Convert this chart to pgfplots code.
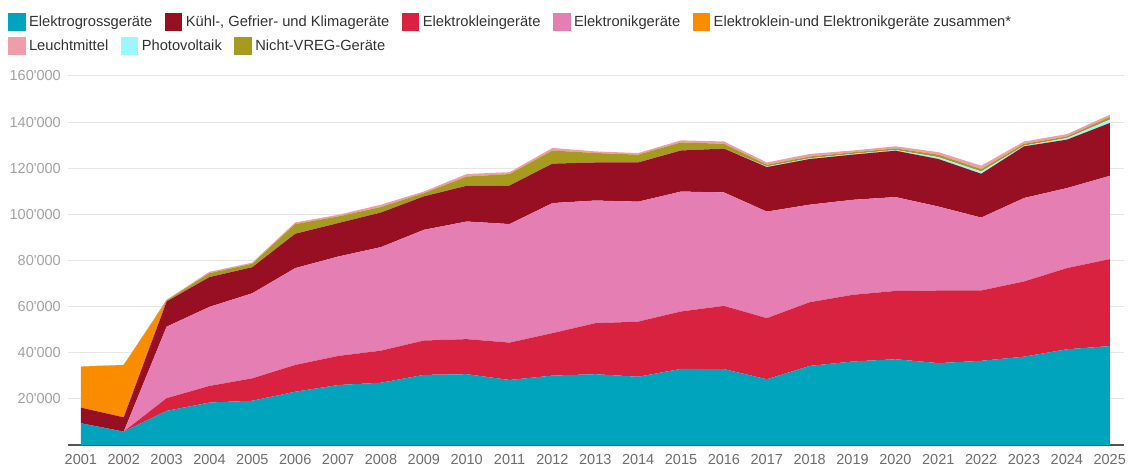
\documentclass[border=0pt]{standalone}
\usepackage{fontspec}
\setmainfont{Liberation Sans}
\usepackage{pgfplots}
\usepackage{pgfplotstable}
\pgfplotsset{compat=1.18}

\definecolor{cGross}{HTML}{00A5BD}
\definecolor{cKuehl}{HTML}{970F23}
\definecolor{cKlein}{HTML}{D9223F}
\definecolor{cElektronik}{HTML}{E57EB3}
\definecolor{cZusammen}{HTML}{FA8C00}
\definecolor{cLeucht}{HTML}{F09DAA}
\definecolor{cPV}{HTML}{9AF7FF}
\definecolor{cVREG}{HTML}{A69A1F}
\definecolor{gridc}{HTML}{E6E6E6}
\definecolor{axisc}{HTML}{555555}
\definecolor{ylab}{HTML}{A3A3A3}
\definecolor{xlab}{HTML}{6E6E6E}
\definecolor{legtxt}{HTML}{333333}

% year, Elektrogross (T), Elektroklein (R), Elektronik (P), Kuehl (K),
% Elektroklein+Elektronik zusammen (O), Photovoltaik (C), Nicht-VREG (V), Leuchtmittel (L)
\pgfplotstableread{
year T R P K O C V L
2001 9400 0 0 6800 17800 0 0 0
2002 5800 0 0 6200 22700 0 0 0
2003 14800 5500 31000 10900 0 0 500 300
2004 18400 7200 34300 12900 0 0 1700 600
2005 19200 9700 36900 11300 0 0 1500 500
2006 23100 11600 42000 14900 0 0 4200 700
2007 26000 12600 43100 14500 0 0 2900 700
2008 27000 13900 44900 15000 0 0 2400 1000
2009 30400 14900 48000 14500 0 0 1400 700
2010 30700 15200 51000 15500 0 0 4000 1100
2011 28200 16200 51400 16700 0 0 5000 800
2012 30100 18400 56400 17100 0 0 5700 1100
2013 30700 22100 53200 16500 0 0 4100 700
2014 29600 23900 52000 17000 0 0 3400 700
2015 33000 24900 52000 17800 0 0 3500 900
2016 32900 27400 49200 19000 0 0 2100 1000
2017 28500 26500 46200 19300 0 300 700 1000
2018 34300 27600 42300 19800 0 300 800 1100
2019 36200 28900 41200 19600 0 300 700 800
2020 37200 29600 40700 20100 0 300 700 900
2021 35500 31500 36400 20600 0 800 1100 1100
2022 36500 30500 31600 19000 0 1000 1000 1500
2023 38300 32600 36200 22400 0 300 800 1000
2024 41500 35200 34700 21000 0 700 700 1000
2025 42900 37700 36100 22900 0 1500 1100 1000
}\data

\pgfplotsset{
  mylegend/.style={
    legend columns=-1,
    legend image code/.code={\fill[##1, draw=none] (0pt,-8.75pt) rectangle (17.5pt,8.75pt);},
    legend style={
      anchor=west, draw=none, fill=none, inner sep=0pt, outer sep=0pt,
      font=\fontsize{14.7}{17}\selectfont, text=legtxt,
      nodes={inner sep=0pt},
      /tikz/every odd column/.append style={column sep=3.5pt},
      /tikz/every even column/.append style={column sep=12.5pt},
    },
    legend cell align=left,
  },
  base/.style={
    scale only axis, width=1056pt, height=369pt,
    xmin=2000.7, xmax=2025.33, ymin=0, ymax=160000,
  },
}

\begin{document}
\begin{tikzpicture}
\begin{axis}[
  base, mylegend,
  legend style={at={(-0.0568,1.1463)}},
  stack plots=y,
  axis x line*=bottom, axis y line*=left,
  x axis line style={draw=axisc, line width=2pt},
  y axis line style={draw=none},
  major tick length=0pt,
  scaled y ticks=false,
  xtick={2001,2002,...,2025},
  xticklabels={2001,2002,2003,2004,2005,2006,2007,2008,2009,2010,2011,2012,2013,2014,2015,2016,2017,2018,2019,2020,2021,2022,2023,2024,2025},
  ytick={20000,40000,60000,80000,100000,120000,140000,160000},
  yticklabels={20\textquotesingle 000,40\textquotesingle 000,60\textquotesingle 000,80\textquotesingle 000,100\textquotesingle 000,120\textquotesingle 000,140\textquotesingle 000,160\textquotesingle 000},
  ymajorgrids, grid style={draw=gridc, line width=1pt},
  xticklabel style={font=\fontsize{14.5}{16}\selectfont, text=xlab, anchor=north, inner sep=0pt, yshift=-9pt},
  yticklabel style={font=\fontsize{14.5}{16}\selectfont, text=ylab, anchor=east, inner sep=0pt, xshift=-7pt},
]
\addplot[fill=cGross, draw=none, forget plot] table[x=year, y=T] {\data} \closedcycle;
\addplot[fill=cKlein, draw=none, forget plot] table[x=year, y=R] {\data} \closedcycle;
\addplot[fill=cElektronik, draw=none, forget plot] table[x=year, y=P] {\data} \closedcycle;
\addplot[fill=cKuehl, draw=none, forget plot] table[x=year, y=K] {\data} \closedcycle;
\addplot[fill=cZusammen, draw=none, forget plot] table[x=year, y=O] {\data} \closedcycle;
\addplot[fill=cPV, draw=none, forget plot] table[x=year, y=C] {\data} \closedcycle;
\addplot[fill=cVREG, draw=none, forget plot] table[x=year, y=V] {\data} \closedcycle;
\addplot[fill=cLeucht, draw=none, forget plot] table[x=year, y=L] {\data} \closedcycle;

\addlegendimage{fill=cGross, draw=none}\addlegendentry{Elektrogrossgeräte}
\addlegendimage{fill=cKuehl, draw=none}\addlegendentry{Kühl-, Gefrier- und Klimageräte}
\addlegendimage{fill=cKlein, draw=none}\addlegendentry{Elektrokleingeräte}
\addlegendimage{fill=cElektronik, draw=none}\addlegendentry{Elektronikgeräte}
\addlegendimage{fill=cZusammen, draw=none}\addlegendentry{Elektroklein-und Elektronikgeräte zusammen*}
\end{axis}

\begin{axis}[
  base, mylegend, hide axis,
  legend style={at={(-0.0568,1.0813)}},
]
\addlegendimage{fill=cLeucht, draw=none}\addlegendentry{Leuchtmittel}
\addlegendimage{fill=cPV, draw=none}\addlegendentry{Photovoltaik}
\addlegendimage{fill=cVREG, draw=none}\addlegendentry{Nicht-VREG-Geräte}
\end{axis}

\pgfresetboundingbox
\path[use as bounding box] (-68pt,-20pt) rectangle (1060pt,445pt);
\end{tikzpicture}
\end{document}
